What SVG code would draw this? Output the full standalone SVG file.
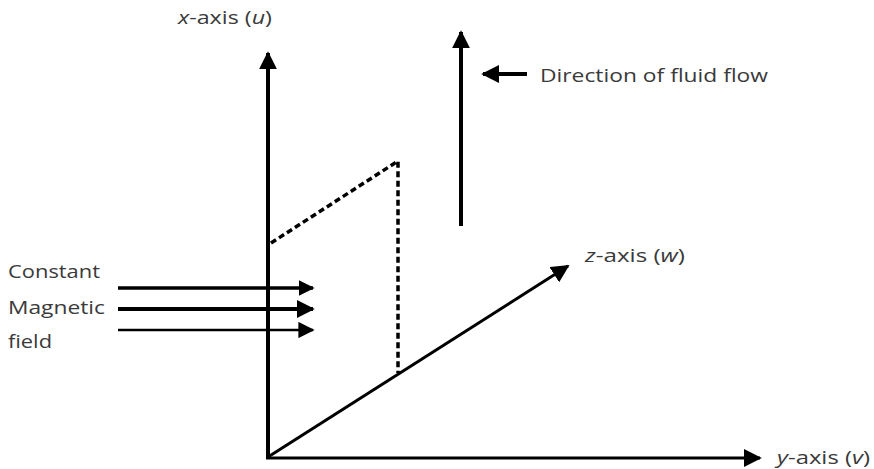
<svg xmlns="http://www.w3.org/2000/svg" width="874" height="469" viewBox="0 0 874 469">
<style>
text{font-family:"Open Sans","Liberation Sans",sans-serif;font-size:19px;fill:#3a3a3a}
.ax{stroke:#000;fill:none}
.dash{stroke:#000;stroke-width:3.5;stroke-dasharray:6,3.5;fill:none}
</style>
<defs>
<marker id="ah4" viewBox="0 0 10 10" refX="9" refY="5" markerWidth="4.5" markerHeight="4.5" orient="auto">
<path d="M0,0 L10,5 L0,10 z" fill="#000"/>
</marker>
<marker id="ah3" viewBox="0 0 10 10" refX="9" refY="5" markerWidth="6" markerHeight="6" orient="auto">
<path d="M0,0 L10,5 L0,10 z" fill="#000"/>
</marker>
<marker id="ah25" viewBox="0 0 10 10" refX="9" refY="5" markerWidth="6.5" markerHeight="6.5" orient="auto">
<path d="M0,0 L10,5 L0,10 z" fill="#000"/>
</marker>
</defs>
<g id="connectors">
<line id="x-axis" class="ax" x1="268" y1="459" x2="268" y2="53" stroke-width="4" marker-end="url(#ah4)"/>
<line id="y-axis" class="ax" x1="266" y1="458" x2="760" y2="458" stroke-width="3" marker-end="url(#ah3)"/>
<line id="z-axis" class="ax" x1="268" y1="457" x2="568" y2="266" stroke-width="3" marker-end="url(#ah3)"/>
<line id="flow" class="ax" x1="461" y1="226" x2="461" y2="32" stroke-width="4" marker-end="url(#ah4)"/>
<line id="flow-pointer" class="ax" x1="527" y1="74" x2="483" y2="74" stroke-width="4" marker-end="url(#ah4)"/>
<line class="ax" x1="118" y1="288" x2="313" y2="288" stroke-width="3.5" marker-end="url(#ah4)"/>
<line class="ax" x1="118" y1="309" x2="313" y2="309" stroke-width="4" marker-end="url(#ah4)"/>
<line class="ax" x1="118" y1="330" x2="313" y2="330" stroke-width="2.5" marker-end="url(#ah25)"/>
<polyline class="dash" points="271,243 398,161 398,373"/>
</g>
<g id="label-x"><text x="178" y="24" textLength="94" lengthAdjust="spacingAndGlyphs"><tspan font-style="italic">x</tspan>-axis (<tspan font-style="italic">u</tspan>)</text></g>
<g id="label-flow"><text x="540" y="82" textLength="228" lengthAdjust="spacingAndGlyphs">Direction of fluid flow</text></g>
<g id="label-z"><text x="585" y="262" textLength="100" lengthAdjust="spacingAndGlyphs"><tspan font-style="italic">z</tspan>-axis (<tspan font-style="italic">w</tspan>)</text></g>
<g id="label-y"><text x="777" y="464" textLength="93" lengthAdjust="spacingAndGlyphs"><tspan font-style="italic">y</tspan>-axis (<tspan font-style="italic">v</tspan>)</text></g>
<g id="label-field">
<text x="8" y="278" textLength="92" lengthAdjust="spacingAndGlyphs">Constant</text>
<text x="8" y="314" textLength="97" lengthAdjust="spacingAndGlyphs">Magnetic</text>
<text x="8" y="348" textLength="44" lengthAdjust="spacingAndGlyphs">field</text>
</g>
</svg>
